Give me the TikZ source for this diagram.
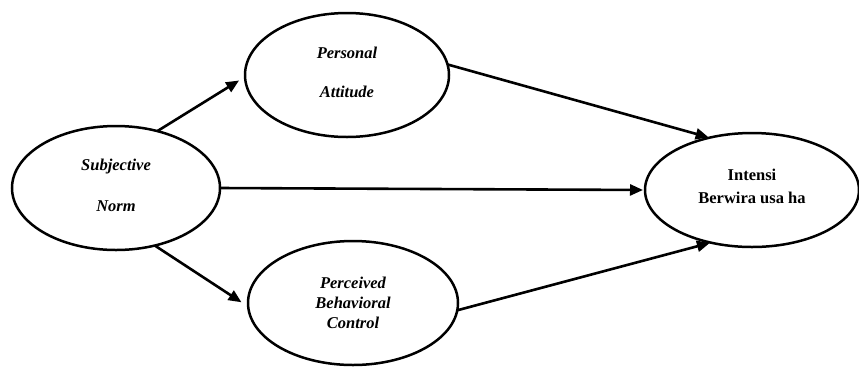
\documentclass[tikz,border=0pt]{standalone}
\usepackage{fontspec}
\setmainfont{Liberation Serif}
\usetikzlibrary{arrows.meta,shapes.geometric}
\begin{document}
\begin{tikzpicture}[x=1pt,y=-1pt,
  ell/.style={draw,line width=2.5pt,ellipse,inner sep=0pt,outer sep=0pt},
  lab/.style={font=\fontsize{16.5}{20}\selectfont\bfseries\itshape,align=center},
  labup/.style={font=\fontsize{16.5}{20}\selectfont\bfseries,align=center},
  arr/.style={line width=2.6pt,-{Triangle[length=13pt,width=11pt]}}]
\useasboundingbox (0,0) rectangle (859,368);
\node[ell,minimum width=208pt,minimum height=124pt] (sn) at (116,188) {};
\node[ell,minimum width=204pt,minimum height=124pt] (pa) at (347,75) {};
\node[ell,minimum width=210pt,minimum height=124pt] (pbc) at (353,303) {};
\node[ell,minimum width=214pt,minimum height=114pt] (int) at (752,190) {};
\node[lab] (t1) at (116,167) {Subjective};
\node[lab] (t2) at (116,206) {Norm};
\node[lab] (t3) at (347,53) {Personal};
\node[lab] (t4) at (347,92) {Attitude};
\node[lab] (t5) at (353,283) {Perceived};
\node[lab] (t6) at (353,303) {Behavioral};
\node[lab] (t7) at (353,323) {Control};
\node[labup] (t8) at (752,175) {Intensi};
\node[labup] (t9) at (752,198) {Berwira usa ha};
\draw[arr,shorten >=7pt] (sn.54) -- (pa.181);
\draw[arr,shorten >=8pt] (sn.-56) -- (pbc.182);
\draw[arr,shorten >=2pt] (sn.east) -- (int.west);
\draw[arr,shorten >=1pt] (pa.6) -- (int.129);
\draw[arr,shorten >=1pt] (pbc.-4) -- (int.232);
\end{tikzpicture}
\end{document}
